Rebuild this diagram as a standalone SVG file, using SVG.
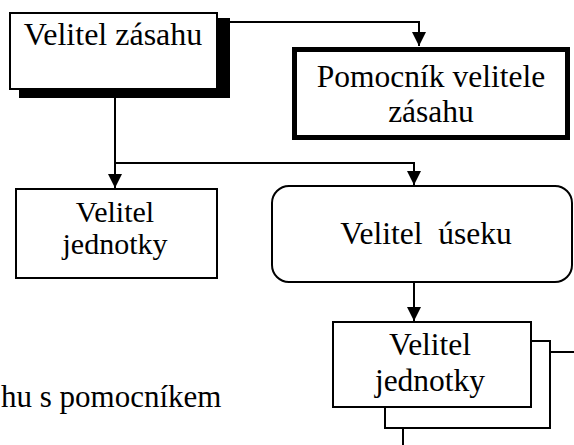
<svg xmlns="http://www.w3.org/2000/svg" width="574" height="445" viewBox="0 0 574 445">
<style>
.t{font-family:'Liberation Serif','Times New Roman',serif;font-size:31.5px;fill:#000;text-anchor:middle}
.box{fill:#fff;stroke:#000;stroke-width:2}
.ln{fill:none;stroke:#000;stroke-width:2}
</style>
<defs>
<marker id="ah" viewBox="0 0 14 14" refX="14" refY="7" markerWidth="14" markerHeight="14" markerUnits="userSpaceOnUse" orient="auto">
<path d="M0,0 L14,7 L0,14 Z" fill="#000"/>
</marker>
</defs>
<rect width="574" height="445" fill="#fff"/>
<g id="connectors">
<polyline class="ln" points="230,22 419,22 419,46" marker-end="url(#ah)"/>
<polyline class="ln" points="115,98 115,188" marker-end="url(#ah)"/>
<polyline class="ln" points="115,163 414,163 414,185" marker-end="url(#ah)"/>
<polyline class="ln" points="414,282 414,321" marker-end="url(#ah)"/>
<polyline class="ln" points="385,407 385,428 550,428 550,341 531,341"/>
<line class="ln" x1="550" y1="352" x2="574" y2="352"/>
<line class="ln" x1="403" y1="428" x2="403" y2="445"/>
</g>
<g id="velitel-zasahu">
<rect x="19" y="18" width="211" height="80" fill="#000"/>
<rect class="box" x="10" y="13" width="207" height="76"/>
<text class="t" x="113" y="45" style="font-size:32px">Velitel zásahu</text>
</g>
<g id="pomocnik">
<rect x="294.5" y="49.5" width="273" height="88" fill="#fff" stroke="#000" stroke-width="5"/>
<text class="t" x="431" y="87">Pomocník velitele</text>
<text class="t" x="431" y="122">zásahu</text>
</g>
<g id="velitel-jednotky-1">
<rect class="box" x="16" y="189" width="201" height="89"/>
<text class="t" x="115" y="222" style="font-size:30px">Velitel</text>
<text class="t" x="115" y="254" style="font-size:30px">jednotky</text>
</g>
<g id="velitel-useku">
<rect class="box" x="272" y="186" width="300" height="96" rx="17" ry="17"/>
<text class="t" x="426" y="244" xml:space="preserve">Velitel  úseku</text>
</g>
<g id="velitel-jednotky-2">
<rect class="box" x="333" y="322" width="198" height="85"/>
<text class="t" x="430" y="355">Velitel</text>
<text class="t" x="430" y="391">jednotky</text>
</g>
<g id="caption">
<text class="t" x="1" y="407" style="text-anchor:start;font-size:31px">hu s pomocníkem</text>
</g>
</svg>
